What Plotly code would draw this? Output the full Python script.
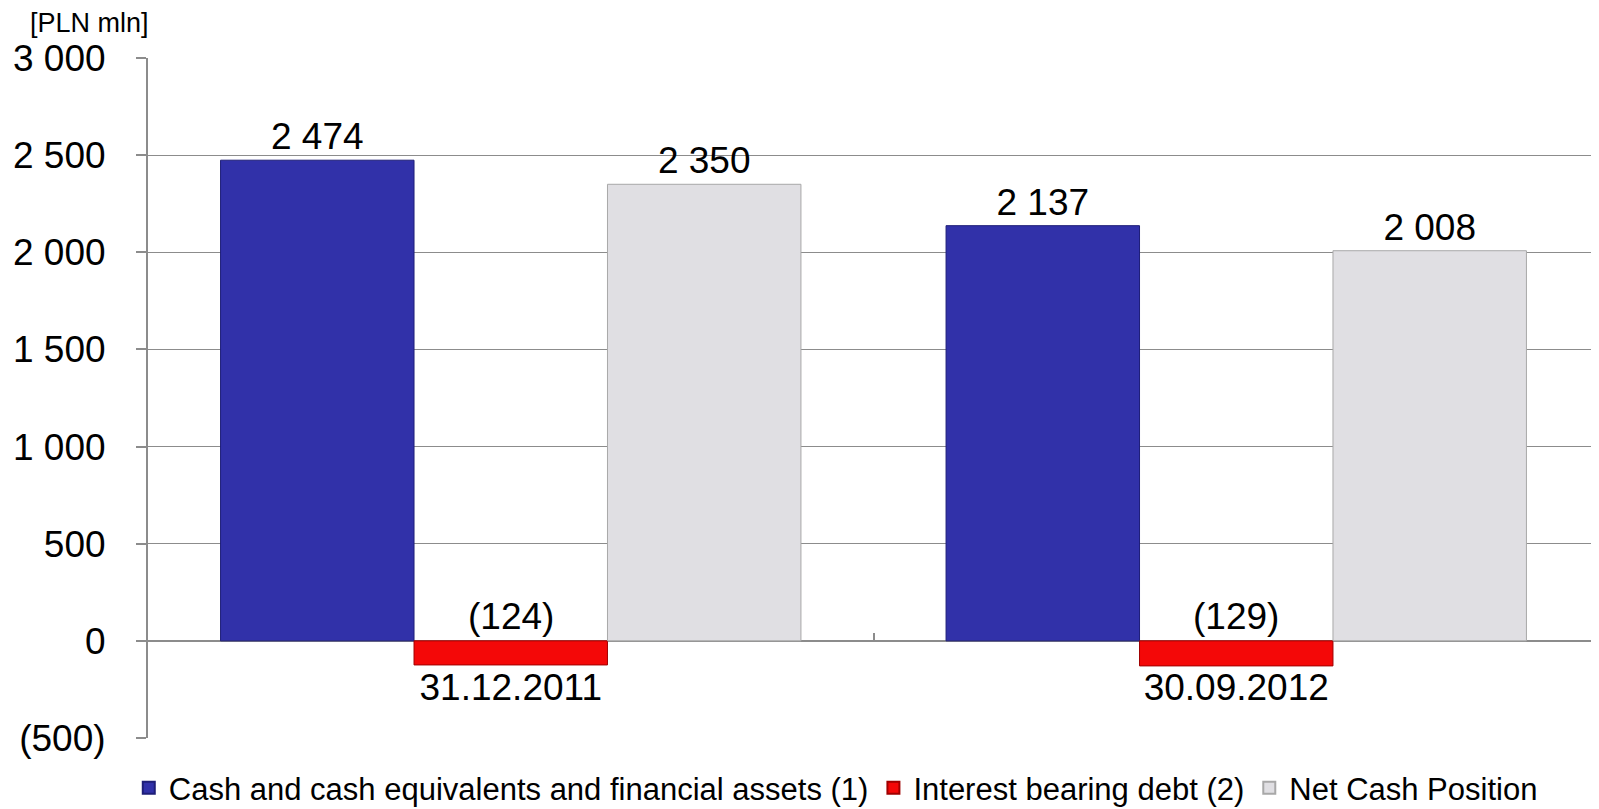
import plotly.graph_objects as go

categories = ["31.12.2011", "30.09.2012"]
cash = [2474, 2137]
debt = [-124, -129]
net_cash = [2350, 2008]
series_names = ["Cash and cash equivalents and financial assets (1)",
                "Interest bearing debt (2)", "Net Cash Position"]
y_tickvals = [-500, 0, 500, 1000, 1500, 2000, 2500, 3000]
y_ticktext = ["(500)", "0", "500", "1 000", "1 500", "2 000", "2 500", "3 000"]
y_range = [-500, 3000]
unit_label = "[PLN mln]"

FONT = "Arial, Liberation Sans, sans-serif"
GRID = "#8c8c8c"
FS = 37

def fmt(v):
    s = f"{abs(v):,}".replace(",", " ")
    return f"({s})" if v < 0 else s

fig = go.Figure()
fig.add_trace(go.Bar(
    name=series_names[0], x=categories, y=cash,
    marker=dict(color="#3131a9", line=dict(color="#1e1e78", width=1)),
    text=[fmt(v) for v in cash], textposition="outside",
    textfont=dict(size=FS, color="black", family=FONT), cliponaxis=False,
))
fig.add_trace(go.Bar(
    name=series_names[1], x=categories, y=debt,
    marker=dict(color="#f40808", line=dict(color="#a00000", width=1)),
))
fig.add_trace(go.Bar(
    name=series_names[2], x=categories, y=net_cash,
    marker=dict(color="#e0dfe3", line=dict(color="#a8a8a8", width=1)),
    text=[fmt(v) for v in net_cash], textposition="outside",
    textfont=dict(size=FS, color="black", family=FONT), cliponaxis=False,
))

# negative labels above zero line, as in the original
for c, v in zip(categories, debt):
    fig.add_annotation(x=c, y=0, text=fmt(v), showarrow=False, yanchor="bottom",
                       yshift=2, font=dict(size=FS, color="black", family=FONT))

fig.add_annotation(xref="paper", yref="paper", x=-0.083, y=1.052, text=unit_label,
                   showarrow=False, xanchor="left", yanchor="middle",
                   font=dict(size=27, color="black", family=FONT))

zero_pos = (0 - y_range[0]) / (y_range[1] - y_range[0])

fig.update_layout(
    width=1591, height=801,
    margin=dict(l=140, r=0, t=50, b=71, autoexpand=False),
    paper_bgcolor="white", plot_bgcolor="white",
    barmode="group", bargap=0.2, bargroupgap=0,
    font=dict(family=FONT, color="black"),
    showlegend=True,
    legend=dict(orientation="h", x=0.474, xanchor="center", y=-0.034, yanchor="top",
                font=dict(size=31, color="black", family=FONT),
                itemsizing="constant", traceorder="normal", itemwidth=30,
                tracegroupgap=0),
    xaxis=dict(anchor="free", position=zero_pos, showline=False, showgrid=False,
               automargin=False,
               ticks="inside", tickson="boundaries", ticklen=8, tickcolor=GRID, tickwidth=2,
               tickfont=dict(size=FS, color="black", family=FONT),
               ticklabelstandoff=21, zeroline=False),
    yaxis=dict(range=y_range, tickvals=y_tickvals, ticktext=y_ticktext,
               automargin=False,
               showgrid=True, gridcolor=GRID, gridwidth=1,
               showline=True, linecolor=GRID, linewidth=2,
               ticks="outside", ticklen=10, tickcolor=GRID, tickwidth=2,
               zeroline=True, zerolinecolor=GRID, zerolinewidth=2,
               tickfont=dict(size=FS, color="black", family=FONT),
               ticklabelstandoff=23),
)

fig.write_html("out.html")
